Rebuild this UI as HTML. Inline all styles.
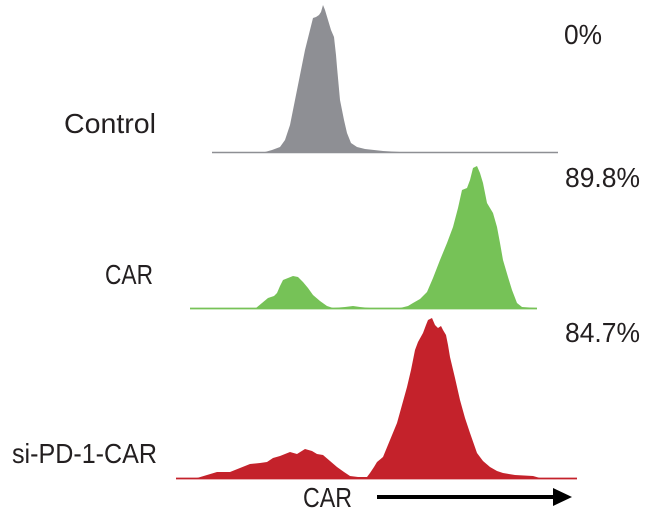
<!DOCTYPE html>
<html>
<head>
<meta charset="utf-8">
<style>
  html,body{margin:0;padding:0;background:#fff;}
  svg{display:block;}
  text{font-family:"Liberation Sans",sans-serif;font-size:28px;fill:#231f20;}
</style>
</head>
<body>
<svg width="650" height="513" viewBox="0 0 650 513" xmlns="http://www.w3.org/2000/svg">
  <rect width="650" height="513" fill="#fff"/>

  <!-- Control (gray) -->
  <path d="M212,152 L265,152 L272,150 L280,147 L285,140 L290,125 L295,100 L300,75 L305,50 L310,30 L313,18 L316,17 L319,15 L321,12 L323,5 L325,10 L328,20 L331,30 L334,37 L336,55 L337,67 L340,100 L344,120 L347,133 L351,143 L357,147 L365,149 L383,151 L400,152 L558,152 Z" fill="#8e8f94"/>
  <line x1="212" y1="152.5" x2="558" y2="152.5" stroke="#8e8f94" stroke-width="1.6"/>

  <!-- CAR (green) -->
  <path d="M190,308 L256,308 L262,303 L268,298 L274,296 L277,293 L280,286 L283,280 L288,278 L293,276 L298,277 L303,282 L308,288 L313,295 L320,301 L327,306 L333,308 L345,307 L353,306 L360,307 L370,308 L400,308 L408,306 L413,303 L420,299 L427,292 L433,278 L440,260 L447,243 L453,227 L458,208 L462,190 L467,188 L470,180 L473,168 L477,166 L480,173 L483,183 L487,203 L490,208 L493,213 L497,227 L500,243 L503,260 L508,277 L512,290 L517,303 L522,307 L537,308 Z" fill="#76c257"/>
  <line x1="190" y1="308.5" x2="537" y2="308.5" stroke="#76c257" stroke-width="1.8"/>

  <!-- si-PD-1-CAR (red) -->
  <path d="M176,478 L197,478 L207,475 L217,472 L230,472 L240,468 L250,464 L260,463 L267,462 L273,458 L280,456 L290,452 L297,454 L305,449 L312,451 L317,454 L323,455 L330,461 L337,467 L344,472 L350,476 L358,477 L367,477 L370,473 L374,467 L377,462 L383,457 L390,440 L397,423 L402,405 L407,387 L411,370 L415,350 L418,342 L423,333 L426,325 L428,320 L432,318 L435,325 L438,328 L441,326 L443,330 L446,335 L448,345 L450,357 L455,378 L460,400 L465,418 L470,433 L477,453 L483,461 L490,467 L497,471 L503,473 L515,475 L533,476 L540,478 L577,478 Z" fill="#c4222b"/>
  <line x1="176" y1="478.5" x2="577" y2="478.5" stroke="#c4222b" stroke-width="1.8"/>

  <!-- Arrow -->
  <line x1="377" y1="497" x2="556" y2="497" stroke="#000" stroke-width="4"/>
  <polygon points="553,488 572,497 553,506" fill="#000"/>

  <!-- Labels -->
  <text x="564" y="44" textLength="38" lengthAdjust="spacingAndGlyphs">0%</text>
  <text x="64" y="133" textLength="92" lengthAdjust="spacingAndGlyphs">Control</text>
  <text x="565" y="187" textLength="75" lengthAdjust="spacingAndGlyphs">89.8%</text>
  <text x="105" y="284" textLength="48" lengthAdjust="spacingAndGlyphs">CAR</text>
  <text x="565" y="342" textLength="75" lengthAdjust="spacingAndGlyphs">84.7%</text>
  <text x="12" y="463" textLength="145" lengthAdjust="spacingAndGlyphs">si-PD-1-CAR</text>
  <text x="303" y="507" textLength="49" lengthAdjust="spacingAndGlyphs">CAR</text>
</svg>
</body>
</html>
